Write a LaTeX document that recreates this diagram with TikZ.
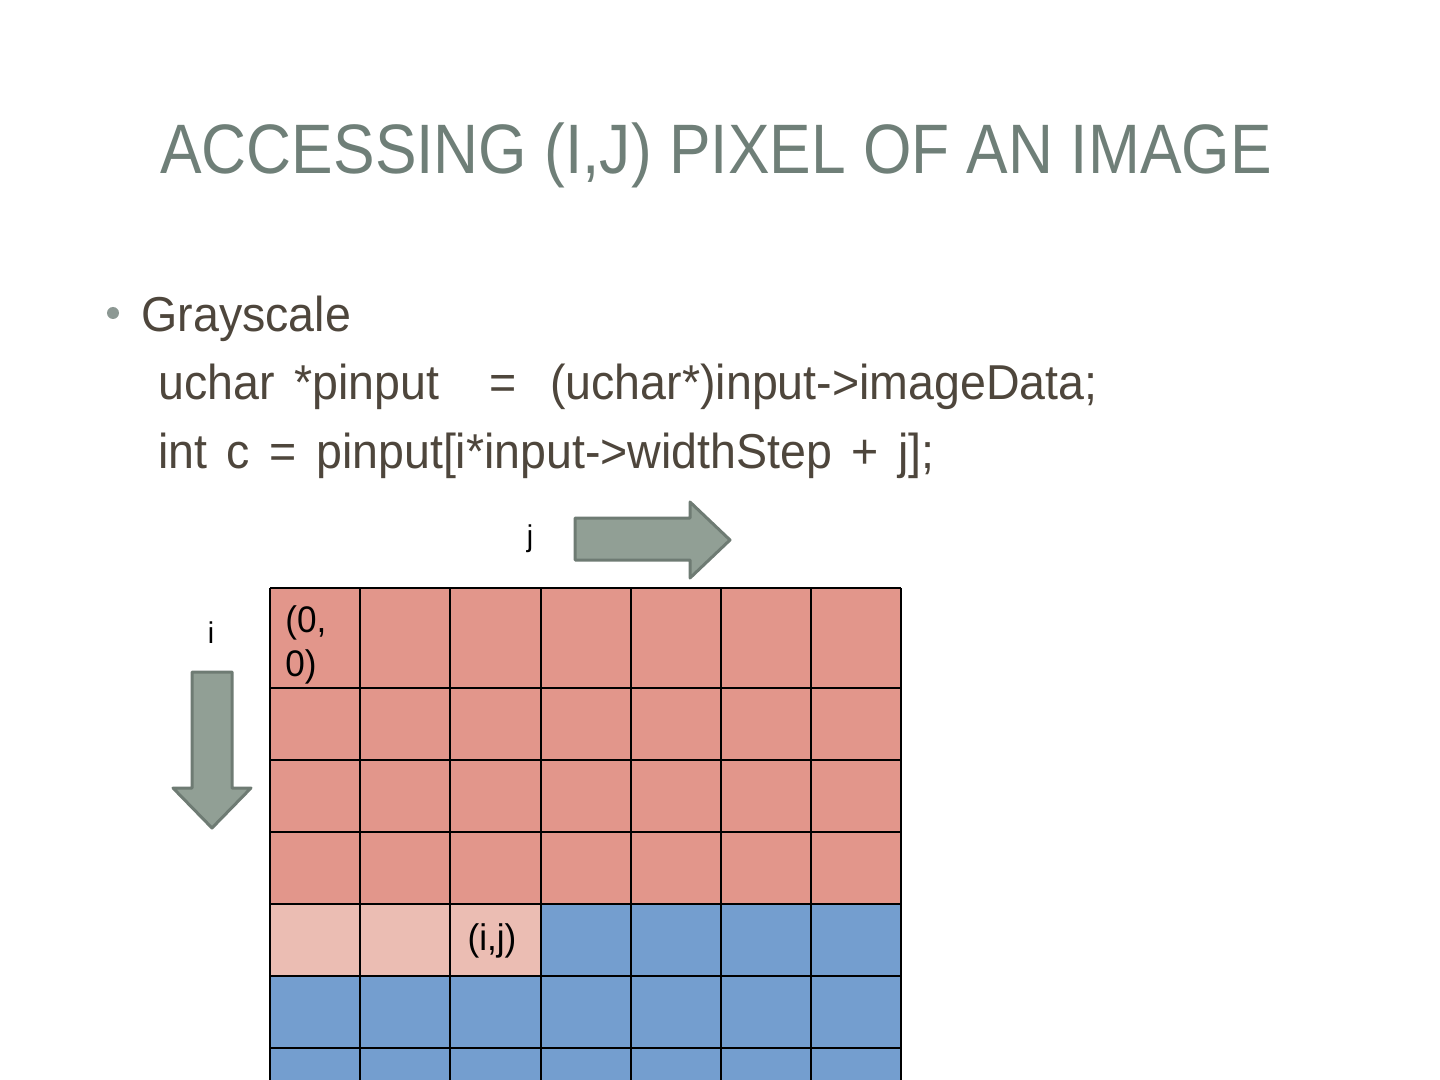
\documentclass[tikz,border=0pt]{standalone}
\usepackage{fontspec}
\setmainfont{Liberation Sans}[FakeStretch=0.95,WordSpace=1.5]
\newfontfamily\titlefont{Liberation Sans}[FakeStretch=0.89]
\definecolor{titlegray}{HTML}{6F7F78}
\definecolor{textbrown}{HTML}{4E463C}
\definecolor{cellred}{HTML}{E2968B}
\definecolor{cellpink}{HTML}{EBBDB3}
\definecolor{cellblue}{HTML}{749ECF}
\definecolor{arrowfill}{HTML}{919F95}
\definecolor{arrowline}{HTML}{6E7B73}
\tikzset{
  slidetext/.style={anchor=base west,inner sep=0pt,text=textbrown,font=\fontsize{24.5}{29}\selectfont},
  celltext/.style={anchor=base west,inner sep=0pt,font=\fontsize{18.5}{22}\selectfont},
  fatarrow/.style={fill=arrowfill,draw=arrowline,line width=1.5pt,line join=round}
}
\begin{document}
\begin{tikzpicture}[x=0.5pt,y=-0.5pt]
  \useasboundingbox (0,0) rectangle (1440,1080);
  \node[anchor=base,inner sep=0pt,text=titlegray,font=\titlefont\fontsize{35}{40}\selectfont] (title) at (716,174) {ACCESSING (I,J) PIXEL OF AN IMAGE};
  % bullet and code lines
  \fill[titlegray!80] (113,313) circle (6);
  \node[slidetext] (gray) at (141,332) {Grayscale};
  \node[slidetext] (code1) at (158,400) {uchar *pinput\hspace{25pt}=\hspace{17pt}(uchar*)input->imageData;};
  \node[slidetext] (code2) at (158,468) {int c = pinput[i*input->widthStep + j];};
  % pixel grid: first row taller
  \foreach \c in {0,...,6} {
    \fill[cellred] (270+90.2*\c,588) rectangle ++(90.2,100);
    \foreach \r in {1,2,3}
      \fill[cellred] (270+90.2*\c,688+72*\r-72) rectangle ++(90.2,72);
    \foreach \r in {5,6}
      \fill[cellblue] (270+90.2*\c,688+72*\r-72) rectangle ++(90.2,72);
  }
  \foreach \c in {0,1,2}
    \fill[cellpink] (270+90.2*\c,904) rectangle ++(90.2,72);
  \foreach \c in {3,...,6}
    \fill[cellblue] (270+90.2*\c,904) rectangle ++(90.2,72);
  \foreach \c in {0,...,7}
    \draw[line width=1pt] (270+90.2*\c,588) -- (270+90.2*\c,1080);
  \foreach \y in {588,688,760,832,904,976,1048}
    \draw[line width=1pt] (270,\y) -- (901.4,\y);
  % labels in cells
  \node[celltext] (origin1) at (285,632) {(0,};
  \node[celltext] (origin2) at (285,676) {0)};
  \node[celltext,anchor=base] (cellij) at (492,950) {(i,j)};
  % direction arrows
  \node[anchor=base,inner sep=0pt,font=\fontsize{15}{17}\selectfont] (jlabel) at (530,546) {j};
  \node[anchor=base,inner sep=0pt,font=\fontsize{15}{17}\selectfont] (ilabel) at (211,643) {i};
  \draw[fatarrow] (575,518) -- (690,518) -- (690,502) -- (730,540) -- (690,578) -- (690,560) -- (575,560) -- cycle;
  \draw[fatarrow] (192,672) -- (232,672) -- (232,788) -- (251,788) -- (212,828) -- (173,788) -- (192,788) -- cycle;
\end{tikzpicture}
\end{document}
